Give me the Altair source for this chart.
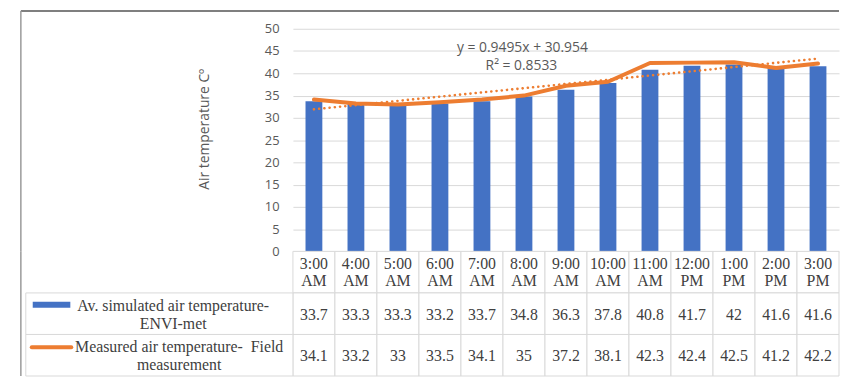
import altair as alt
import pandas as pd

categories = ["3:00 AM", "4:00 AM", "5:00 AM", "6:00 AM", "7:00 AM", "8:00 AM", "9:00 AM",
              "10:00 AM", "11:00 AM", "12:00 PM", "1:00 PM", "2:00 PM", "3:00 PM"]
simulated = [33.7, 33.3, 33.3, 33.2, 33.7, 34.8, 36.3, 37.8, 40.8, 41.7, 42, 41.6, 41.6]
measured = [34.1, 33.2, 33, 33.5, 34.1, 35, 37.2, 38.1, 42.3, 42.4, 42.5, 41.2, 42.2]
row_keys = ["hdr", "sim", "meas"]
row_labels = ["", "Av. simulated air temperature-\nENVI-met",
              "Measured air temperature-\u00a0 Field\nmeasurement"]
trend_text = ["y = 0.9495x + 30.954", "R\u00b2 = 0.8533"]
y_title = "Air temperature C\u00ba"
y_ticks = [0, 5, 10, 15, 20, 25, 30, 35, 40, 45, 50]

W = 552
PH = 225
RH = 42
BLUE = "#4472C4"
ORANGE = "#ED7D31"
GRID = "#d9d9d9"
TXT = "#595959"
SERIF = "Liberation Serif"
SANS = "Open Sans"

df = pd.DataFrame({"cat": categories, "idx": list(range(1, len(categories) + 1)),
                   "sim": simulated, "meas": measured})

xscale = alt.Scale(domain=categories, paddingInner=0, paddingOuter=0)
X = alt.X("cat:N", sort=categories, scale=xscale, axis=None)
yscale = alt.Scale(domain=[0, 50], nice=False)
yaxis = alt.Axis(values=y_ticks, domain=False, ticks=False, grid=True,
                 gridColor=GRID, labelColor=TXT, labelFont=SANS, labelFontSize=13,
                 labelPadding=14, titleFont=SANS, titleFontSize=14,
                 titleFontWeight="normal", titleColor=TXT, titleX=-89, titleY=101,
                 titleBaseline="middle", titleAlign="center", titleAngle=270)

base = alt.Chart(df)
bars = base.mark_bar(color=BLUE, size=17).encode(
    x=X,
    y=alt.Y("sim:Q", scale=yscale, axis=yaxis, title=y_title),
)
line = base.mark_line(color=ORANGE, strokeWidth=4, strokeJoin="round", strokeCap="round").encode(
    x=X, y=alt.Y("meas:Q", scale=yscale, axis=yaxis, title=y_title)
)
trend = base.transform_regression("idx", "meas").mark_line(
    color=ORANGE, strokeWidth=2.6, strokeDash=[0.1, 5.2], strokeCap="round"
).encode(
    x=alt.X("idx:Q", scale=alt.Scale(domain=[0.5, len(categories) + 0.5], nice=False, zero=False), axis=None),
    y=alt.Y("meas:Q", scale=yscale, axis=yaxis, title=y_title),
)
one = alt.Chart(pd.DataFrame({"a": [0]}))
eq1 = one.mark_text(text=trend_text[0], font=SANS, fontSize=14, color=TXT, align="center",
                    baseline="middle").encode(x=alt.value(232), y=alt.value(19))
eq2 = one.mark_text(text=trend_text[1], font=SANS, fontSize=14, color=TXT, align="center",
                    baseline="middle").encode(x=alt.value(231), y=alt.value(38))
top_border = one.mark_rule(color="#555555", strokeWidth=1.5).encode(
    x=alt.value(-275), x2=alt.value(W), y=alt.value(-18))
left_border1 = one.mark_rule(color="#999999", strokeWidth=1.5).encode(
    x=alt.value(-275), y=alt.value(-18), y2=alt.value(PH))

top = alt.layer(bars, line, trend, eq1, eq2, top_border, left_border1).resolve_scale(
    x="independent").properties(width=W, height=PH)

# data table
recs = []
for c, s, m in zip(categories, simulated, measured):
    recs.append({"cat": c, "row": "hdr", "text": c})
    recs.append({"cat": c, "row": "sim", "text": f"{s:g}"})
    recs.append({"cat": c, "row": "meas", "text": f"{m:g}"})
tdf = pd.DataFrame(recs)
ldf = pd.DataFrame({"row": row_keys[1:], "label": row_labels[1:]})

Yt = alt.Y("row:N", sort=row_keys, scale=alt.Scale(domain=row_keys, paddingInner=0, paddingOuter=0),
           axis=None)
Xt = alt.X("cat:N", sort=categories, scale=xscale, axis=None)

tbase = alt.Chart(tdf)
cells = tbase.mark_rect(fill="white", stroke=GRID, strokeWidth=1).encode(x=Xt, y=Yt)
hdr = tbase.transform_filter(alt.datum.row == "hdr").mark_text(
    lineBreak=" ", lineHeight=17.5, font=SERIF, fontSize=16, color="#404040", baseline="middle",
    dy=-8.5
).encode(x=Xt, y=Yt, text="text:N")
vals = tbase.transform_filter(alt.datum.row != "hdr").mark_text(
    font=SERIF, fontSize=16, color="#404040", baseline="middle", dy=1
).encode(x=Xt, y=Yt, text="text:N")

lbase = alt.Chart(ldf)
lcells = lbase.mark_rect(fill="white", stroke=GRID, strokeWidth=1).encode(
    x=alt.value(-270), x2=alt.value(0), y=Yt)
ltext1 = lbase.transform_filter(alt.datum.row == "sim").mark_text(
    lineBreak="\n", lineHeight=18, font=SERIF, fontSize=16, color="#404040",
    align="center", baseline="middle", dy=-8).encode(x=alt.value(-121), y=Yt, text="label:N")
ltext2 = lbase.transform_filter(alt.datum.row == "meas").mark_text(
    lineBreak="\n", lineHeight=18, font=SERIF, fontSize=16, color="#404040",
    align="center", baseline="middle", dy=-8).encode(x=alt.value(-115), y=Yt, text="label:N")
sw_blue = lbase.transform_filter(alt.datum.row == "sim").mark_rule(
    color=BLUE, strokeWidth=6).encode(x=alt.value(-263), x2=alt.value(-225), y=Yt, yOffset=alt.value(12))
sw_orange = lbase.transform_filter(alt.datum.row == "meas").mark_rule(
    color=ORANGE, strokeWidth=4, strokeCap="round").encode(
    x=alt.value(-264), x2=alt.value(-224), y=Yt, yOffset=alt.value(13))
left_border2 = one.mark_rule(color="#999999", strokeWidth=1.5).encode(
    x=alt.value(-275), y=alt.value(0), y2=alt.value(3 * RH))

table = alt.layer(cells, hdr, vals, lcells, ltext1, ltext2, sw_blue, sw_orange, left_border2).properties(
    width=W, height=3 * RH)

chart = alt.vconcat(top, table, spacing=0, bounds="flush").properties(
    padding={"left": 12, "top": 0, "right": 0, "bottom": 0}
).configure_view(stroke=None)

chart.save("out.html", embed_options={"renderer": "svg", "actions": False})
